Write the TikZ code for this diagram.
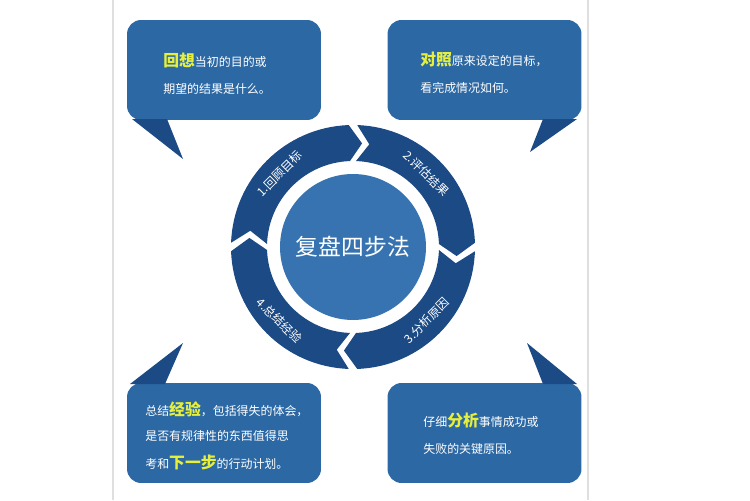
\documentclass[tikz,border=0pt]{standalone}
\usepackage{fontspec}
\setmainfont{Noto Sans CJK SC}
\usepackage{tikz}
\usetikzlibrary{positioning,calc}

\definecolor{boxblue}{HTML}{2C68A4}
\definecolor{ringblue}{HTML}{1B4A85}
\definecolor{coreblue}{HTML}{3673B0}
\definecolor{hiyellow}{HTML}{E6F03C}

\tikzset{
    box/.style={fill=boxblue, rounded corners=8, minimum width=3.88cm, minimum height=2cm, inner sep=0pt},
    tail/.style={fill=ringblue},
    line/.style={anchor=west, text=white, font=\fontsize{6.8}{8}\selectfont, inner sep=0pt},
    steplabel/.style={text=white, font=\fontsize{6.8}{7}\selectfont, inner sep=0pt},
}
\newcommand{\hl}[1]{{\color{hiyellow}\fontsize{9}{10}\selectfont\bfseries #1}}

\begin{document}
\begin{tikzpicture}[x=0.02cm, y=-0.02cm]
    \useasboundingbox (0,0) rectangle (750,500);
    % 外框
    \draw[gray!25, line width=0.6pt] (113,0) -- (113,500);
    \draw[gray!25, line width=0.6pt] (588,0) -- (588,500);

    % 四个提示框
    \node[box] (tl) at (224,70) {};
    \node[box] (tr) at (484.5,70) {};
    \node[box] (bl) at (224,433) {};
    \node[box] (br) at (484.5,433) {};

    % 尖角
    \fill[tail] (132,119) -- (167,119) -- (183,159) -- cycle;
    \fill[tail] (543,119) -- (577,119) -- (530,152) -- cycle;
    \fill[tail] (130,384) -- (165,384) -- (183,343) -- cycle;
    \fill[tail] (543,384) -- (577,384) -- (527,343) -- cycle;

    % 圆环
    \begin{scope}[shift={(353,247)}, yscale=-1]
        \foreach \s in {178, 88, -2, -92}{
            \pgfmathsetmacro{\e}{\s-86}
            \fill[ringblue] (\s:122) arc[start angle=\s, end angle=\e, radius=122]
                -- (\e-7:104) -- (\e:86)
                arc[start angle=\e, end angle=\s, radius=86]
                -- (\s-7:104) -- cycle;
        }
        \foreach \m/\txt/\rot in {135/{1.回顾目标}/-90, 45/{2.评估结果}/-90, -45/{3.分析原因}/90, -135/{4.总结经验}/90}{
            \node[steplabel, rotate=\m+\rot] at (\m:104) {\txt};
        }
        \node[circle, fill=coreblue, minimum size=2.92cm, inner sep=0pt, text=white,
              font=\fontsize{13}{15}\selectfont] (core) at (0,0) {复盘四步法};
    \end{scope}

    % 文字
    \node[line] (tl1) at (163,60) {\hl{回想}当初的目的或};
    \node[line] (tl2) at (163,89) {期望的结果是什么。};
    \node[line] (tr1) at (420,60) {\hl{对照}原来设定的目标，};
    \node[line] (tr2) at (420,88) {看完成情况如何。};
    \node[line] (bl1) at (145,409) {总结\hl{经验}，包括得失的体会，};
    \node[line] (bl2) at (145,436) {是否有规律性的东西值得思};
    \node[line] (bl3) at (145,462) {考和\hl{下一步}的行动计划。};
    \node[line] (br1) at (423,421) {仔细\hl{分析}事情成功或};
    \node[line] (br2) at (423,449) {失败的关键原因。};
\end{tikzpicture}
\end{document}
